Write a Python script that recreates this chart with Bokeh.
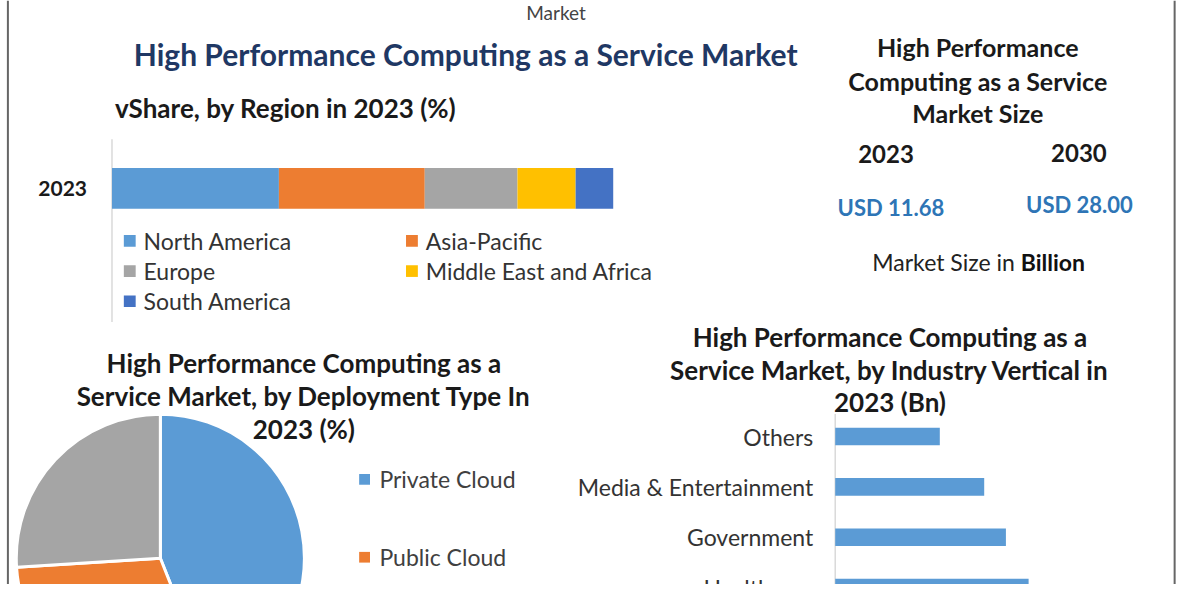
import numpy as np
from bokeh.plotting import figure
from bokeh.models import Range1d
from bokeh.core.properties import value
from bokeh.embed import file_html
from bokeh.resources import INLINE

# ---------------- data ----------------
region_year = "2023"
regions = ["North America", "Asia-Pacific", "Europe", "Middle East and Africa", "South America"]
region_share = [33.3, 29.1, 18.5, 11.6, 7.5]
region_colors = ["#5b9bd5", "#ed7d31", "#a5a5a5", "#ffc000", "#4472c4"]

deploy_types = ["Private Cloud", "Public Cloud", "Hybrid Cloud"]
deploy_share = [44.0, 30.0, 26.0]
deploy_colors = ["#5b9bd5", "#ed7d31", "#a5a5a5"]
deploy_legend_shown = 2  # only the first two legend entries are visible in the crop

industries = ["Others", "Media & Entertainment", "Government", "Healthcare"]
industry_bn = [1.06, 1.51, 1.73, 1.96]
industry_color = "#5b9bd5"

size_years = ["2023", "2030"]
size_values = ["USD 11.68", "USD 28.00"]

main_title = "High Performance Computing as a Service Market"
region_title = "vShare, by Region in 2023 (%)"
size_title = ["High Performance", "Computing as a Service", "Market Size"]
deploy_title = ["High Performance Computing as a", "Service Market, by Deployment Type In", "2023 (%)"]
industry_title = ["High Performance Computing as a", "Service Market, by Industry Vertical in", "2023 (Bn)"]

# ---------------- canvas ----------------
W, H = 1184, 584
X0, X1 = 0, 1200
Y0, Y1 = 0, 600
FONT = "Lato"


def xr(px_a, v_a, px_b, v_b):
    k = (v_b - v_a) / (px_b - px_a)
    return Range1d(start=v_a + (X0 - px_a) * k, end=v_a + (X1 - px_a) * k)


def yr(px_a, v_a, px_b, v_b):
    k = (v_b - v_a) / (px_b - px_a)
    return Range1d(start=v_a + (Y1 - px_a) * k, end=v_a + (Y0 - px_a) * k)


p = figure(width=W, height=H, x_range=Range1d(X0, X1), y_range=Range1d(Y1, Y0),
           output_backend="svg", toolbar_location=None, min_border=0)
p.axis.visible = False
p.grid.visible = False
p.outline_line_color = None
p.background_fill_color = "white"
p.border_fill_color = "white"

p.extra_x_ranges = {"share": xr(113, 0, 621, 100), "bn": xr(846, 0, 946, 1.0)}
p.extra_y_ranges = {"row": yr(193, 0, 235, 1), "ind": yr(448, 0, 499.7, 1)}


def txt(x, y, s, size, color="#1a1a1a", bold=False, align="center", **kw):
    p.text(x=[x], y=[y], text=[s], text_font=value(FONT), text_font_size=f"{size}px",
           text_font_style="bold" if bold else "normal", text_color=color,
           text_align=align, text_baseline="middle", **kw)


# frame borders
p.segment(x0=[7.5, 1190], y0=[Y0, Y0], x1=[7.5, 1190], y1=[Y1, Y1], line_color="#666666", line_width=2)

# top texts
txt(563, 12, "Market", 19, color="#444444")
txt(471.5, 55, main_title, 30, color="#1f3864", bold=True)

# ---------------- stacked region bar ----------------
txt(116, 110, region_title, 26, bold=True, align="left")
cum = np.cumsum([0] + region_share)
p.segment(x0=[0], y0=[-1.2], x1=[0], y1=[3.27], line_color="#d9d9d9", line_width=1.5,
          x_range_name="share", y_range_name="row")
p.hbar(y=[0] * len(regions), left=cum[:-1], right=cum[1:], height=1.0, fill_color=region_colors,
       line_color=None, x_range_name="share", y_range_name="row")
p.text(x=[0], y=[0], text=[region_year], x_offset=-25, text_align="right", text_baseline="middle",
       text_font=value(FONT), text_font_size="21px", text_font_style="bold", text_color="#1a1a1a",
       x_range_name="share", y_range_name="row")

for i, (name, col) in enumerate(zip(regions, region_colors)):
    cx = 131 + (i % 2) * 286
    cy = 247 + (i // 2) * 31
    p.rect(x=[cx], y=[cy], width=12, height=12, fill_color=col, line_color=None)
    txt(cx + 14, cy, name, 23, color="#333333", align="left")

# ---------------- market size panel ----------------
for j, line in enumerate(size_title):
    txt(990.5, [48, 83, 116][j], line, 25, bold=True)
for j, (yy, vv) in enumerate(zip(size_years, size_values)):
    txt([897.5, 1093][j], [158, 157][j], yy, 24, bold=True)
    txt([902.5, 1093.5][j], [213, 210][j], vv, 22, color="#2e75b6", bold=True)
txt(1028, 269, "Market Size in", 23, color="#222222", align="right")
txt(1034, 269, "Billion", 23, color="#111111", bold=True, align="left")

# ---------------- deployment pie ----------------
for j, line in enumerate(deploy_title):
    txt(307.5, [372, 406, 440][j], line, 26, bold=True)
dcum = np.cumsum([0] + deploy_share)
starts = 90 - dcum[:-1] * 3.6
ends = 90 - dcum[1:] * 3.6
p.wedge(x=[162] * 3, y=[573] * 3, radius=146, start_angle=starts, end_angle=ends,
        start_angle_units="deg", end_angle_units="deg", direction="clock",
        fill_color=deploy_colors, line_color="white", line_width=3)
for i, (name, col) in enumerate(zip(deploy_types[:deploy_legend_shown], deploy_colors)):
    cy = 492 + i * 80
    p.rect(x=[369], y=[cy], width=11, height=11, fill_color=col, line_color=None)
    txt(384, cy, name, 23, color="#404040", align="left")

# ---------------- industry bars ----------------
for j, line in enumerate(industry_title):
    txt(901.5, [346, 380, 413][j], line, 26, bold=True)
idx = list(range(len(industries)))
p.segment(x0=[0], y0=[-0.45], x1=[0], y1=[3.6], line_color="#d9d9d9", line_width=1.5,
          x_range_name="bn", y_range_name="ind")
p.hbar(y=idx, left=0, right=industry_bn, height=0.35, fill_color=industry_color, line_color=None,
       x_range_name="bn", y_range_name="ind")
p.text(x=[0] * len(idx), y=idx, text=industries, x_offset=-22, text_align="right", text_baseline="middle",
       text_font=value(FONT), text_font_size="23px", text_color="#333333",
       x_range_name="bn", y_range_name="ind")

open("out.html", "w").write(file_html(p, INLINE))
